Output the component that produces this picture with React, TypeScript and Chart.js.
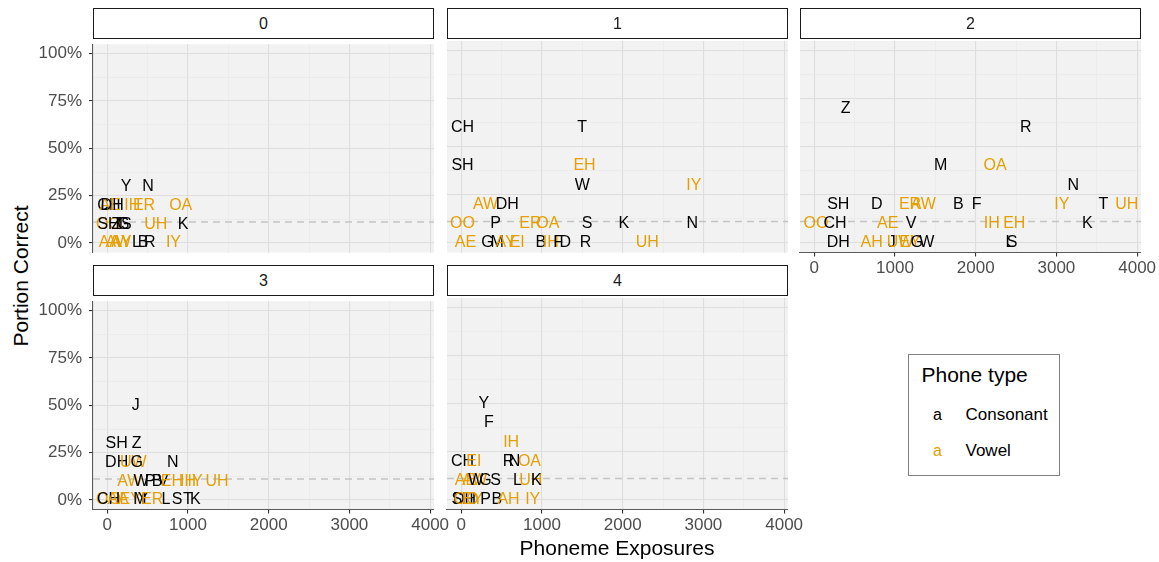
import React, { useEffect, useRef } from 'react';
import { Chart, registerables } from 'chart.js';
Chart.register(...registerables);

const FONT = '"Liberation Sans", Arial, Helvetica, sans-serif';
const VOWELS = ['AA', 'AE', 'AH', 'AO', 'AW', 'AY', 'EH', 'ER', 'EY', 'EI', 'IH', 'IY', 'OA', 'OO', 'UH', 'UW'];
const CONS_COLOR = '#000000';
const VOWEL_COLOR = '#E69F00';

const FACETS = ['0', '1', '2', '3', '4'];
const X_TICKS = [0, 1000, 2000, 3000, 4000];
const Y_TICKS = [0, 0.25, 0.5, 0.75, 1];
const CHANCE = 1 / 9;
const X_TITLE = 'Phoneme Exposures';
const Y_TITLE = 'Portion Correct';
const LEGEND_TITLE = 'Phone type';
const LEGEND_LABELS = ['Consonant', 'Vowel'];

// facet 0
const P0_PHONES = ['Y', 'N', 'CH', 'AE', 'DH', 'IH', 'ER', 'OA', 'OO', 'SH', 'Z', 'T', 'G', 'S', 'UH', 'K', 'AA', 'AW', 'AY', 'L', 'B', 'R', 'IY'];
const P0_EXPOSURES = [232, 504, 20, 35, 60, 310, 455, 910, 15, 15, 110, 170, 200, 235, 600, 940, 25, 135, 175, 360, 445, 525, 820];
const P0_CORRECT = [0.3, 0.3, 0.2, 0.2, 0.2, 0.2, 0.2, 0.2, 0.1, 0.1, 0.1, 0.1, 0.1, 0.1, 0.1, 0.1, 0, 0, 0, 0, 0, 0, 0];

// facet 1
const P1_PHONES = ['CH', 'T', 'SH', 'EH', 'W', 'IY', 'AW', 'DH', 'OO', 'P', 'ER', 'OA', 'S', 'K', 'N', 'AE', 'G', 'M', 'AY', 'EI', 'B', 'IH', 'F', 'D', 'R', 'UH'];
const P1_EXPOSURES = [15, 1498, 15, 1527, 1498, 2881, 300, 569, 15, 424, 857, 1072, 1560, 2014, 2861, 52, 325, 445, 548, 693, 985, 1110, 1200, 1290, 1539, 2304];
const P1_CORRECT = [0.6, 0.6, 0.4, 0.4, 0.3, 0.3, 0.2, 0.2, 0.1, 0.1, 0.1, 0.1, 0.1, 0.1, 0.1, 0, 0, 0, 0, 0, 0, 0, 0, 0, 0, 0];

// facet 2
const P2_PHONES = ['Z', 'R', 'M', 'OA', 'N', 'SH', 'D', 'ER', 'AW', 'B', 'F', 'IY', 'T', 'UH', 'OO', 'CH', 'AE', 'V', 'IH', 'EH', 'K', 'DH', 'AH', 'J', 'UW', 'EY', 'G', 'W', 'L', 'S'];
const P2_EXPOSURES = [389, 2620, 1566, 2239, 3209, 297, 773, 1186, 1351, 1784, 2012, 3066, 3581, 3871, 20, 257, 910, 1198, 2198, 2478, 3383, 297, 711, 959, 1062, 1186, 1269, 1393, 2425, 2450];
const P2_CORRECT = [0.7, 0.6, 0.4, 0.4, 0.3, 0.2, 0.2, 0.2, 0.2, 0.2, 0.2, 0.2, 0.2, 0.2, 0.1, 0.1, 0.1, 0.1, 0.1, 0.1, 0.1, 0, 0, 0, 0, 0, 0, 0, 0, 0];

// facet 3
const P3_PHONES = ['J', 'SH', 'Z', 'DH', 'UW', 'G', 'N', 'AW', 'W', 'P', 'B', 'V', 'EH', 'IH', 'IY', 'UH', 'OO', 'CH', 'AA', 'EY', 'M', 'Y', 'ER', 'L', 'S', 'T', 'K'];
const P3_EXPOSURES = [352, 116, 364, 116, 322, 364, 810, 280, 419, 530, 617, 690, 800, 1000, 1087, 1360, 15, 15, 134, 283, 405, 443, 555, 728, 866, 1000, 1090];
const P3_CORRECT = [0.5, 0.3, 0.3, 0.2, 0.2, 0.2, 0.2, 0.1, 0.1, 0.1, 0.1, 0.1, 0.1, 0.1, 0.1, 0.1, 0, 0, 0, 0, 0, 0, 0, 0, 0, 0, 0];

// facet 4
const P4_PHONES = ['Y', 'F', 'IH', 'CH', 'EI', 'R', 'N', 'OA', 'AE', 'AW', 'W', 'G', 'S', 'L', 'UH', 'K', 'SH', 'DH', 'OO', 'EY', 'P', 'B', 'AH', 'IY'];
const P4_EXPOSURES = [279, 341, 618, 15, 155, 585, 660, 845, 52, 165, 180, 300, 424, 696, 860, 930, 15, 40, 60, 140, 300, 440, 585, 885];
const P4_CORRECT = [0.5, 0.4, 0.3, 0.2, 0.2, 0.2, 0.2, 0.2, 0.1, 0.1, 0.1, 0.1, 0.1, 0.1, 0.1, 0.1, 0, 0, 0, 0, 0, 0, 0, 0];

const X_MIN = -177;
const X_MAX = 4048;
const Y_MIN = -0.05;
const Y_MAX = 1.05;

// layout
const ML = 60, MR = 24, MT = 14, MB = 34.5;
const PW = 341, PH = 211.5;
const CW = ML + PW + MR;
const CH_ = MT + PH + MB;
const COLS = [93, 447, 800];
const ROWS = [41, 298];

const PANEL_BG = '#F2F2F2';
const GRID_MAJOR = '#DEDEDE';
const GRID_MINOR = '#E7E7E7';
const AXIS_COLOR = '#5A5A5A';
const TICK_TEXT = '#4D4D4D';

const midpoints = (a: number[]) => a.slice(1).map((v, i) => (v + a[i]) / 2);
const X_GRID = [...X_TICKS, ...midpoints(X_TICKS)].sort((a, b) => a - b);
const Y_GRID = [...Y_TICKS, ...midpoints(Y_TICKS)].sort((a, b) => a - b);

const decor = {
  id: 'decor',
  beforeDraw(chart: any) {
    const { ctx, chartArea: a } = chart;
    ctx.save();
    ctx.fillStyle = PANEL_BG;
    ctx.fillRect(a.left, a.top, a.right - a.left, a.bottom - a.top);
    ctx.restore();
  },
  beforeDatasetsDraw(chart: any) {
    const { ctx, chartArea: a } = chart;
    const y = chart.scales.y.getPixelForValue(CHANCE);
    ctx.save();
    ctx.strokeStyle = '#C4C4C4';
    ctx.lineWidth = 1.5;
    ctx.setLineDash([7, 5]);
    ctx.beginPath();
    ctx.moveTo(a.left, y);
    ctx.lineTo(a.right, y);
    ctx.stroke();
    ctx.restore();
  },
  afterDatasetsDraw(chart: any) {
    const { ctx } = chart;
    ctx.save();
    ctx.font = `16px ${FONT}`;
    ctx.textAlign = 'center';
    ctx.textBaseline = 'middle';
    chart.data.datasets.forEach((ds: any, di: number) => {
      const meta = chart.getDatasetMeta(di);
      meta.data.forEach((el: any, i: number) => {
        const p = ds.phones[i];
        ctx.fillStyle = VOWELS.includes(p) ? VOWEL_COLOR : CONS_COLOR;
        ctx.fillText(p, el.x, el.y);
      });
    });
    ctx.restore();
  },
};

type PanelProps = {
  phones: string[];
  exposures: number[];
  correct: number[];
  left: number;
  top: number;
  showX: boolean;
  showY: boolean;
};

function Panel({ phones, exposures, correct, left, top, showX, showY }: PanelProps) {
  const ref = useRef<HTMLCanvasElement>(null);
  useEffect(() => {
    const isMajorX = (v: number) => X_TICKS.includes(v);
    const isMajorY = (v: number) => Y_TICKS.includes(v);
    const chart = new Chart(ref.current!, {
      type: 'scatter',
      data: {
        datasets: [
          {
            data: exposures.map((x, i) => ({ x, y: correct[i] })),
            pointRadius: 0,
            pointHoverRadius: 0,
            phones,
          } as any,
        ],
      },
      options: {
        animation: false,
        responsive: false,
        events: [],
        layout: { padding: { top: MT, right: MR, left: 0, bottom: 0 } },
        plugins: { legend: { display: false }, tooltip: { enabled: false } },
        scales: {
          x: {
            type: 'linear',
            min: X_MIN,
            max: X_MAX,
            afterBuildTicks: (s: any) => {
              s.ticks = X_GRID.map((v) => ({ value: v }));
            },
            afterFit: (s: any) => {
              s.height = MB;
            },
            ticks: {
              display: showX,
              autoSkip: false,
              maxRotation: 0,
              padding: 2,
              color: TICK_TEXT,
              font: { family: FONT, size: 17 },
              callback: (v: any) => (isMajorX(Number(v)) ? String(v) : ''),
            },
            grid: {
              color: (c: any) => (isMajorX(c.tick?.value) ? GRID_MAJOR : GRID_MINOR),
              lineWidth: (c: any) => (isMajorX(c.tick?.value) ? 1.1 : 0.6),
              tickColor: (c: any) => (showX && isMajorX(c.tick?.value) ? '#333333' : 'rgba(0,0,0,0)'),
              tickLength: 4,
              tickWidth: 1.1,
              drawTicks: true,
            },
            border: { display: showX, color: AXIS_COLOR, width: 1.1 },
          },
          y: {
            type: 'linear',
            min: Y_MIN,
            max: Y_MAX,
            afterBuildTicks: (s: any) => {
              s.ticks = Y_GRID.map((v) => ({ value: v }));
            },
            afterFit: (s: any) => {
              s.width = ML;
            },
            ticks: {
              display: showY,
              autoSkip: false,
              padding: 7,
              color: TICK_TEXT,
              font: { family: FONT, size: 17 },
              callback: (v: any) => (isMajorY(Number(v)) ? `${Math.round(Number(v) * 100)}%` : ''),
            },
            grid: {
              color: (c: any) => (isMajorY(c.tick?.value) ? GRID_MAJOR : GRID_MINOR),
              lineWidth: (c: any) => (isMajorY(c.tick?.value) ? 1.1 : 0.6),
              tickColor: (c: any) => (showY && isMajorY(c.tick?.value) ? '#333333' : 'rgba(0,0,0,0)'),
              tickLength: 4,
              tickWidth: 1.1,
              drawTicks: true,
            },
            border: { display: showY, color: AXIS_COLOR, width: 1.1 },
          },
        },
      } as any,
      plugins: [decor],
    });
    return () => chart.destroy();
  }, []);
  return (
    <canvas
      ref={ref}
      width={CW}
      height={CH_}
      style={{ position: 'absolute', left: left - ML, top: top - MT, width: CW, height: CH_ }}
    />
  );
}

function Strip({ label, left, top }: { label: string; left: number; top: number }) {
  return (
    <div
      style={{
        position: 'absolute',
        left,
        top: top - 33,
        width: PW,
        height: 31,
        boxSizing: 'border-box',
        border: '1.3px solid #1A1A1A',
        background: '#FFFFFF',
        display: 'flex',
        alignItems: 'center',
        justifyContent: 'center',
        fontFamily: FONT,
        fontSize: 16,
        color: '#1A1A1A',
      }}
    >
      {label}
    </div>
  );
}

export default function App() {
  const panels = [
    { phones: P0_PHONES, exposures: P0_EXPOSURES, correct: P0_CORRECT, col: 0, row: 0, showX: false, showY: true },
    { phones: P1_PHONES, exposures: P1_EXPOSURES, correct: P1_CORRECT, col: 1, row: 0, showX: false, showY: false },
    { phones: P2_PHONES, exposures: P2_EXPOSURES, correct: P2_CORRECT, col: 2, row: 0, showX: true, showY: false },
    { phones: P3_PHONES, exposures: P3_EXPOSURES, correct: P3_CORRECT, col: 0, row: 1, showX: true, showY: true },
    { phones: P4_PHONES, exposures: P4_EXPOSURES, correct: P4_CORRECT, col: 1, row: 1, showX: true, showY: false },
  ];
  const text = (extra: React.CSSProperties): React.CSSProperties => ({
    position: 'absolute',
    fontFamily: FONT,
    lineHeight: 1,
    whiteSpace: 'nowrap',
    ...extra,
  });
  return (
    <div style={{ position: 'absolute', left: 0, top: 0, width: 1159, height: 562, overflow: 'hidden', background: '#FFFFFF' }}>
      {panels.map((p, i) => (
        <Panel
          key={i}
          phones={p.phones}
          exposures={p.exposures}
          correct={p.correct}
          left={COLS[p.col]}
          top={ROWS[p.row]}
          showX={p.showX}
          showY={p.showY}
        />
      ))}
      {panels.map((p, i) => (
        <Strip key={'s' + i} label={FACETS[i]} left={COLS[p.col]} top={ROWS[p.row]} />
      ))}
      <div style={text({ left: 617, top: 537, fontSize: 21, color: '#000', transform: 'translateX(-50%)' })}>{X_TITLE}</div>
      <div
        style={text({
          left: 20,
          top: 275.5,
          fontSize: 21,
          color: '#000',
          transform: 'translate(-50%, -50%) rotate(-90deg)',
        })}
      >
        {Y_TITLE}
      </div>
      <div
        style={{
          position: 'absolute',
          left: 908,
          top: 354,
          width: 152,
          height: 122,
          boxSizing: 'border-box',
          border: '1.5px solid #808080',
          background: '#FFFFFF',
        }}
      />
      <div style={text({ left: 921.5, top: 364, fontSize: 21, color: '#000' })}>{LEGEND_TITLE}</div>
      {LEGEND_LABELS.map((lab, i) => (
        <React.Fragment key={lab}>
          <div
            style={text({
              left: 927.5,
              width: 20,
              textAlign: 'center',
              top: 406.5 + i * 36,
              fontSize: 16,
              color: i === 0 ? CONS_COLOR : VOWEL_COLOR,
            })}
          >
            a
          </div>
          <div style={text({ left: 965.5, top: 405.5 + i * 36, fontSize: 17, color: '#000' })}>{lab}</div>
        </React.Fragment>
      ))}
    </div>
  );
}
